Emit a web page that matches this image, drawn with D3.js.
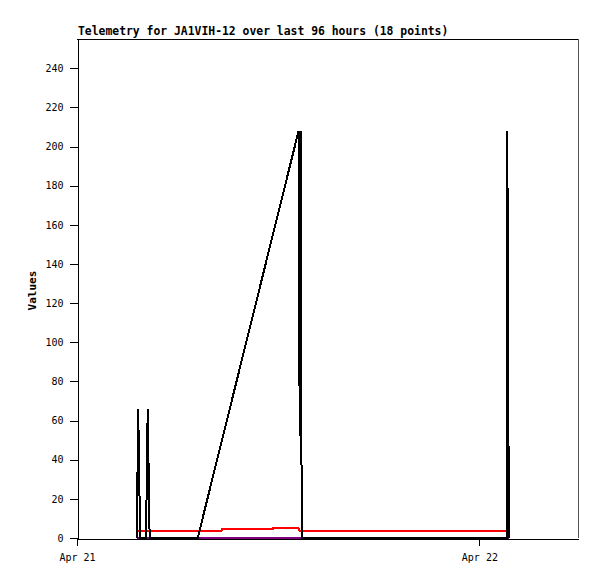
<!DOCTYPE html>
<html>
<head>
<meta charset="utf-8">
<script src="https://cdn.jsdelivr.net/npm/d3@7"></script>
<style>
  html, body { margin: 0; padding: 0; background: #fff; }
  svg { display: block; }
  text { font-family: "DejaVu Sans Mono", "Liberation Mono", monospace; fill: #000; }
</style>
</head>
<body>
<svg id="chart" width="597" height="579"></svg>
<script>
// ---- data ----
const titleText = "Telemetry for JA1VIH-12 over last 96 hours (18 points)";
const yAxisLabel = "Values";
const xDomainStart = "2024-04-21T00:00";
const xDomainEnd = "2024-04-22T05:53";
const xTickDates = ["2024-04-21T00:00", "2024-04-22T00:00"];
const yTicks = [0, 20, 40, 60, 80, 100, 120, 140, 160, 180, 200, 220, 240];
const yMax = 255;

const blackTimes = ["2024-04-21T03:34", "2024-04-21T03:39", "2024-04-21T03:46",
  "2024-04-21T04:07", "2024-04-21T04:13", "2024-04-21T04:20",
  "2024-04-21T07:12", "2024-04-21T13:13", "2024-04-21T13:17", "2024-04-21T13:21", "2024-04-21T13:24",
  "2024-04-22T01:39", "2024-04-22T01:40", "2024-04-22T01:44", "2024-04-22T01:47"];
const blackValues = [0, 66, 0, 0, 66, 0, 0, 208, 52, 208, 0, 0, 208, 52, 0];

const redTimes = ["2024-04-21T03:30", "2024-04-21T08:37", "2024-04-21T08:39",
  "2024-04-21T11:40", "2024-04-21T11:42", "2024-04-21T13:13", "2024-04-21T13:17", "2024-04-22T01:39"];
const redValues = [3.7, 3.7, 4.4, 4.4, 5.1, 5.1, 3.7, 3.7];

const purpleTimes = ["2024-04-21T03:34", "2024-04-22T01:47"];
const purpleValues = [0, 0];

// ---- drawing ----
const parse = d3.timeParse("%Y-%m-%dT%H:%M");
const svg = d3.select("#chart");
const L = 77, R = 578, T = 39, B = 538;

const x = d3.scaleTime().domain([parse(xDomainStart), parse(xDomainEnd)]).range([L, R]);
const y = d3.scaleLinear().domain([0, yMax]).range([B, T]);

const zip = (ts, vs) => ts.map((t, i) => ({t: parse(t), v: vs[i]}));
const line = d3.line().x(d => x(d.t)).y(d => y(d.v));

// frame (top and right)
svg.append("line").attr("x1", L).attr("x2", R + 0.5).attr("y1", T + 0.5).attr("y2", T + 0.5)
  .attr("stroke", "#000").attr("shape-rendering", "crispEdges");
svg.append("line").attr("x1", R + 0.5).attr("x2", R + 0.5).attr("y1", T).attr("y2", B)
  .attr("stroke", "#555").attr("shape-rendering", "crispEdges");

// data series
const series = [
  {data: zip(purpleTimes, purpleValues), color: "#800080"},
  {data: zip(redTimes, redValues), color: "#ff0000"},
  {data: zip(blackTimes, blackValues), color: "#000000"}
];
series.forEach(s => {
  svg.append("path").datum(s.data).attr("d", line)
    .attr("fill", "none").attr("stroke", s.color).attr("stroke-width", 2)
    .attr("stroke-linejoin", "miter").attr("shape-rendering", "crispEdges");
});

// y axis
const yAxis = d3.axisLeft(y).tickValues(yTicks).tickSize(8).tickPadding(6).tickSizeOuter(0);
const gy = svg.append("g").attr("transform", `translate(${L + 0.5},0)`).call(yAxis);
gy.select(".domain").attr("stroke", "#000").attr("shape-rendering", "crispEdges");
gy.selectAll(".tick line").attr("stroke", "#000").attr("shape-rendering", "crispEdges");
gy.selectAll("text").style("font-size", "10px").style("font-family", "DejaVu Sans Mono").attr("fill", "#000");

// x axis
const xAxis = d3.axisBottom(x).tickValues(xTickDates.map(parse))
  .tickFormat(d3.timeFormat("%b %d")).tickSize(7).tickPadding(8).tickSizeOuter(0);
const gx = svg.append("g").attr("transform", `translate(0,${B + 0.5})`).call(xAxis);
gx.select(".domain").attr("stroke", "#000").attr("shape-rendering", "crispEdges");
gx.selectAll(".tick line").attr("stroke", "#000").attr("shape-rendering", "crispEdges");
gx.selectAll("text").style("font-size", "10px").style("font-family", "DejaVu Sans Mono").attr("fill", "#000");

// title
svg.append("text").attr("x", L + 1).attr("y", 35)
  .style("font-size", "11.4px").style("font-weight", "bold").text(titleText);

// y label
svg.append("text").attr("transform", `translate(36,${(T + B) / 2 + 2}) rotate(-90)`)
  .attr("text-anchor", "middle").style("font-size", "11px").style("font-weight", "bold").text(yAxisLabel);
</script>
</body>
</html>
